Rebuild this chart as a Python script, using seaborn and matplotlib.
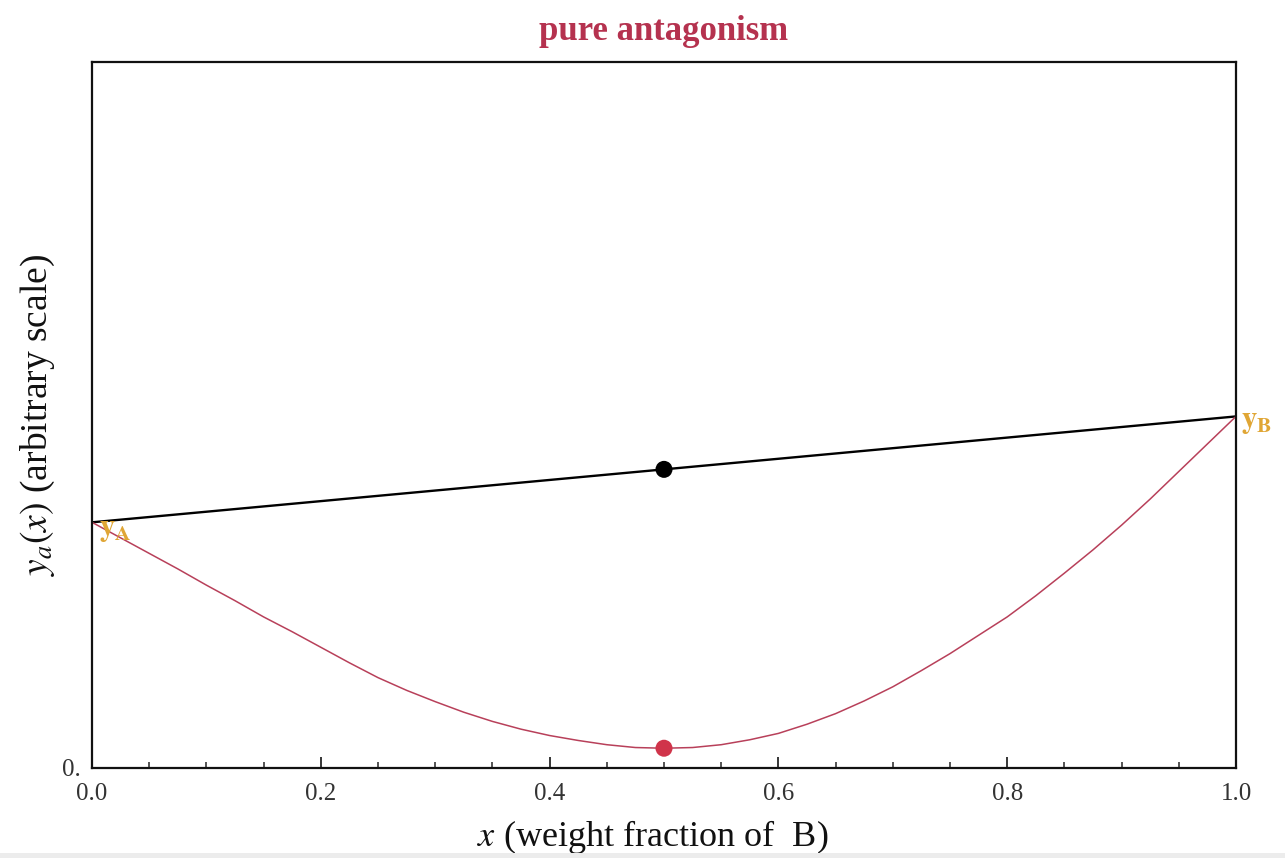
import matplotlib
matplotlib.use("Agg")
import matplotlib.pyplot as plt
from matplotlib.patches import Rectangle
from matplotlib.ticker import MultipleLocator
import pandas as pd
import seaborn as sns

# values (y on an arbitrary 0..1 scale)
x_frac = [0.000, 0.025, 0.050, 0.075, 0.100, 0.125, 0.150, 0.175, 0.200, 0.225,
          0.250, 0.275, 0.300, 0.325, 0.350, 0.375, 0.400, 0.425, 0.450, 0.475,
          0.500, 0.525, 0.550, 0.575, 0.600, 0.625, 0.650, 0.675, 0.700, 0.725,
          0.750, 0.775, 0.800, 0.825, 0.850, 0.875, 0.900, 0.925, 0.950, 0.975, 1.000]
y_mix = [0.348, 0.326, 0.304, 0.282, 0.259, 0.237, 0.214, 0.193, 0.171, 0.149,
         0.128, 0.110, 0.094, 0.079, 0.066, 0.055, 0.046, 0.039, 0.033, 0.029,
         0.028, 0.029, 0.033, 0.040, 0.049, 0.062, 0.077, 0.095, 0.115, 0.138,
         0.162, 0.188, 0.214, 0.244, 0.276, 0.309, 0.344, 0.381, 0.420, 0.459, 0.498]
x_ends = [0.0, 1.0]
y_ends = [0.348, 0.498]          # yA, yB
x_mid = [0.5]
y_mid_linear = [0.423]
y_mid_mix = [0.028]
end_labels = ["A", "B"]

sns.set_theme(style="white")
plt.rcParams.update({
    "font.family": ["Liberation Serif", "DejaVu Serif"],
    "mathtext.fontset": "stix",
    "axes.edgecolor": "#111111",
    "axes.linewidth": 1.6,
})

RED = "#b8405a"
GOLD = "#e0a635"

fig = plt.figure(figsize=(12.85, 8.58), dpi=100)
ax = fig.add_axes([92 / 1285, 1 - 768 / 858, (1236 - 92) / 1285, (768 - 62) / 858])

sns.lineplot(x=x_ends, y=y_ends, color="black", linewidth=1.7, ax=ax)
sns.lineplot(data=pd.DataFrame({"x": x_frac, "y": y_mix}), x="x", y="y",
             color=RED, linewidth=1.1, ax=ax)
sns.scatterplot(x=x_mid, y=y_mid_linear, color="black", s=150, edgecolor="none", ax=ax, zorder=5)
sns.scatterplot(x=x_mid, y=y_mid_mix, color="#d0344a", s=150, edgecolor="none", ax=ax, zorder=5)

ax.set_xlim(0, 1)
ax.set_ylim(0, 1)

ax.xaxis.set_major_locator(MultipleLocator(0.2))
ax.xaxis.set_minor_locator(MultipleLocator(0.05))
ax.set_xticklabels([f"{v:.1f}" for v in ax.get_xticks()])
ax.tick_params(axis="x", which="major", direction="in", length=8, width=1.3,
               labelsize=18, labelcolor="#333333", pad=11, bottom=True)
ax.tick_params(axis="x", which="minor", direction="in", length=4, width=1.1, bottom=True)
ax.set_yticks([0])
ax.set_yticklabels(["0."])
ax.tick_params(axis="y", length=0, labelsize=18, labelcolor="#333333", pad=8)

ax.set_xlabel(r"$x$ (weight fraction of  B)", fontsize=26, color="#111111")
ax.xaxis.set_label_coords(0.49, -0.071)
ax.set_ylabel(r"$y_a(x)$ (arbitrary scale)", fontsize=27, color="#111111")
ax.yaxis.set_label_coords(-0.031, 0.5)
ax.set_title("pure antagonism", fontsize=25, fontweight="bold", color="#b5324f", pad=16)

ax.text(0.006, 0.338, r"$\mathbf{y_" + end_labels[0] + "}$", color=GOLD,
        fontsize=22, ha="left", va="center")
ax.text(1.004, 0.491, r"$\mathbf{y_" + end_labels[1] + "}$", color=GOLD,
        fontsize=22, ha="left", va="center", clip_on=False)

# light strip along the bottom edge of the screenshot
fig.patches.append(Rectangle((0, 0), 1, 5 / 858, transform=fig.transFigure,
                             facecolor="#ececec", edgecolor="none", zorder=0))

fig.savefig("out.png", dpi=100)
